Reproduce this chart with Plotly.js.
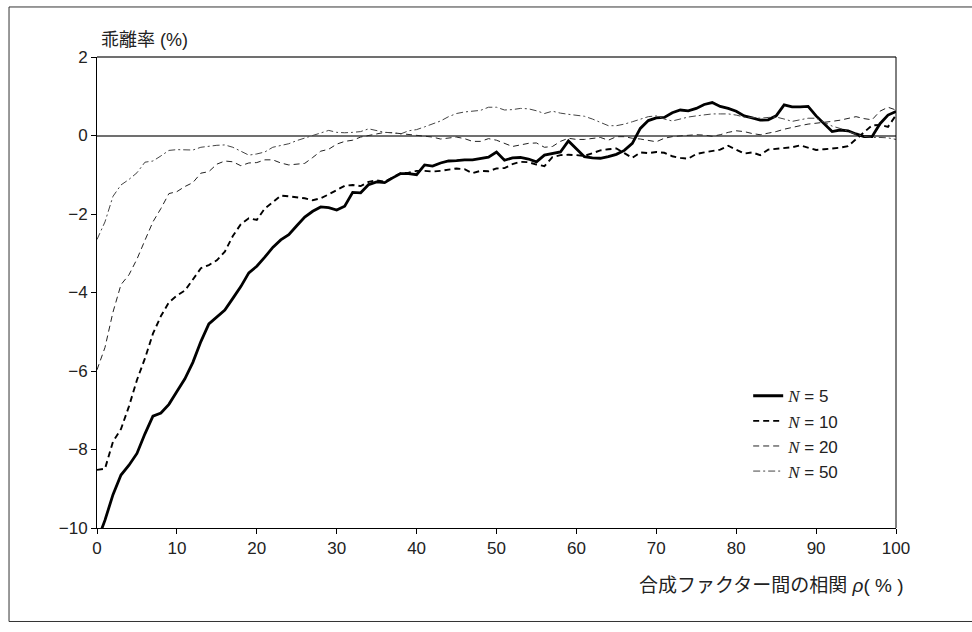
<!DOCTYPE html>
<html>
<head>
<meta charset="utf-8">
<script src="https://cdn.plot.ly/plotly-3.0.1.min.js"></script>
<style>
  html, body { margin: 0; padding: 0; background: #ffffff; }
  #chart { width: 972px; height: 632px; }
</style>
</head>
<body>
<div id="chart"></div>
<script>
// Correlation between composite factors, rho (%)
const rho = Array.from({length: 101}, (_, i) => i);

// Deviation rate (%) for each number of stocks N
const devN5 = [
  -10.35, -9.8, -9.15, -8.65, -8.4, -8.1, -7.6, -7.15, -7.07, -6.85,
  -6.52, -6.2, -5.78, -5.25, -4.8, -4.63, -4.45, -4.15, -3.85, -3.5,
  -3.33, -3.1, -2.85, -2.66, -2.53, -2.3, -2.08, -1.93, -1.82, -1.84,
  -1.9, -1.8, -1.45, -1.46, -1.25, -1.18, -1.2, -1.08, -0.97, -0.97,
  -1.0, -0.75, -0.78, -0.7, -0.65, -0.64, -0.62, -0.62, -0.59, -0.55,
  -0.42, -0.63, -0.57, -0.56, -0.6, -0.67, -0.5, -0.46, -0.42, -0.14,
  -0.33, -0.54, -0.57, -0.58, -0.54, -0.48, -0.38, -0.2, 0.18, 0.38,
  0.45, 0.46, 0.58, 0.65, 0.63, 0.69, 0.79, 0.84, 0.74, 0.69,
  0.62, 0.5, 0.45, 0.39, 0.4, 0.5, 0.78, 0.73, 0.73, 0.74,
  0.5, 0.3, 0.1, 0.14, 0.12, 0.04, -0.03, -0.03, 0.3, 0.52,
  0.61
];
const devN10 = [
  -8.52, -8.49, -7.8, -7.48, -6.9, -6.23, -5.68, -5.05, -4.6, -4.25,
  -4.08, -3.95, -3.67, -3.38, -3.3, -3.18, -2.96, -2.56, -2.26, -2.11,
  -2.15, -1.86, -1.7, -1.53, -1.55, -1.58, -1.6, -1.65, -1.6, -1.5,
  -1.38, -1.28, -1.26, -1.29, -1.18, -1.14, -1.18, -1.08, -0.96, -0.95,
  -0.9, -0.9, -0.92, -0.9, -0.87, -0.84, -0.86, -0.96, -0.9, -0.91,
  -0.84, -0.83, -0.73, -0.67, -0.68, -0.74, -0.78, -0.55, -0.5, -0.49,
  -0.5, -0.52, -0.45, -0.38, -0.35, -0.33, -0.45, -0.57, -0.43, -0.45,
  -0.42, -0.44, -0.53, -0.57, -0.59, -0.47, -0.43, -0.4, -0.36, -0.26,
  -0.36, -0.46, -0.43, -0.5, -0.36, -0.34, -0.32, -0.3, -0.25, -0.3,
  -0.37, -0.35, -0.33, -0.31, -0.27, -0.1, 0.08, 0.26, 0.27, 0.22,
  0.52
];
const devN20 = [
  -5.97, -5.4, -4.5, -3.8, -3.55, -3.15, -2.67, -2.2, -1.86, -1.48,
  -1.43, -1.3, -1.2, -0.96, -0.92, -0.73, -0.65, -0.67, -0.77, -0.7,
  -0.69, -0.62, -0.62, -0.7, -0.75, -0.73, -0.71, -0.56, -0.4, -0.35,
  -0.22, -0.15, -0.12, -0.04, 0.0, 0.05, 0.08, 0.07, 0.05, 0.03,
  0.01, -0.01, -0.04, -0.09, -0.06, -0.04, -0.08, -0.15, -0.15, -0.08,
  -0.12, -0.2, -0.28, -0.24, -0.2, -0.19, -0.3, -0.28, -0.15, -0.07,
  -0.1, -0.1, -0.07, -0.05, -0.12, -0.03, -0.03, -0.07, -0.09, -0.12,
  -0.16, -0.07, -0.03, -0.01, 0.0, 0.02, 0.01, -0.02, 0.02, 0.08,
  0.12, 0.1, 0.05, 0.02, 0.06, 0.1, 0.16, 0.21, 0.25, 0.29,
  0.31, 0.34, 0.36, 0.39, 0.43, 0.48, 0.43, 0.4, 0.62, 0.72,
  0.65
];
const devN50 = [
  -2.65, -2.2, -1.55, -1.26, -1.12, -0.95, -0.68, -0.65, -0.52, -0.38,
  -0.36, -0.37, -0.37, -0.3, -0.27, -0.25, -0.24, -0.3, -0.4, -0.5,
  -0.47, -0.42, -0.3, -0.25, -0.21, -0.13, -0.06, 0.0, 0.07, 0.13,
  0.08, 0.07, 0.08, 0.1, 0.17, 0.12, 0.08, 0.07, 0.04, 0.12,
  0.15, 0.22, 0.3, 0.37, 0.48, 0.56, 0.6, 0.62, 0.64, 0.72,
  0.72, 0.65, 0.66, 0.69, 0.68, 0.63, 0.56, 0.62, 0.57, 0.54,
  0.52, 0.49, 0.42, 0.34, 0.25, 0.25, 0.29, 0.35, 0.42, 0.48,
  0.5, 0.42, 0.37, 0.42, 0.47, 0.5, 0.53, 0.55, 0.55, 0.55,
  0.52, 0.47, 0.46, 0.44, 0.46, 0.47, 0.42, 0.36, 0.4, 0.44,
  0.44, 0.34, 0.24, 0.18, 0.1, 0.03, -0.02, -0.05, -0.05, -0.06,
  -0.1
];

const seriesNames = ["5", "10", "20", "50"];
const xTickVals = [0, 10, 20, 30, 40, 50, 60, 70, 80, 90, 100];
const yTickVals = [-10, -8, -6, -4, -2, 0, 2];

const latin = "Liberation Sans, Arial, sans-serif";
const cjk = "Liberation Sans, Noto Sans CJK JP, sans-serif";

function legendLabel(n) {
  return '<span style="font-family:Liberation Serif"><i>N</i></span> = ' + n;
}

const traces = [
  { y: devN5,  line: { color: "#000000", width: 2.8, dash: "solid" } },
  { y: devN10, line: { color: "#000000", width: 1.9, dash: "6px,4px" } },
  { y: devN20, line: { color: "#222222", width: 1.0, dash: "6px,4px" } },
  { y: devN50, line: { color: "#444444", width: 1.0, dash: "7px,3px,2px,3px" } }
].map((t, i) => ({
  type: "scatter",
  mode: "lines",
  x: rho,
  y: t.y,
  name: legendLabel(seriesNames[i]),
  line: t.line,
  hoverinfo: "skip"
}));

const layout = {
  width: 972,
  height: 632,
  margin: { l: 97, r: 76, t: 57, b: 104, pad: 0 },
  paper_bgcolor: "#ffffff",
  plot_bgcolor: "#ffffff",
  font: { family: latin, size: 17, color: "#222222" },
  showlegend: true,
  legend: {
    x: 0.815, xanchor: "left",
    y: 0.318, yanchor: "top",
    bgcolor: "rgba(0,0,0,0)",
    itemwidth: 30,
    tracegroupgap: 0,
    font: { family: latin, size: 17, color: "#222222" }
  },
  xaxis: {
    range: [0, 100],
    tickvals: xTickVals,
    ticks: "outside",
    ticklen: 5,
    tickcolor: "#000000",
    showline: true,
    linecolor: "#000000",
    linewidth: 1,
    showgrid: false,
    zeroline: false,
    tickfont: { family: latin, size: 17, color: "#222222" }
  },
  yaxis: {
    range: [-10, 2],
    tickvals: yTickVals,
    ticks: "outside",
    ticklen: 5,
    tickcolor: "#000000",
    showline: true,
    linecolor: "#000000",
    linewidth: 1,
    showgrid: false,
    zeroline: true,
    zerolinecolor: "#707070",
    zerolinewidth: 2,
    tickfont: { family: latin, size: 17, color: "#222222" }
  },
  shapes: [
    // upper edge of the plot frame
    { type: "line", xref: "paper", yref: "paper", x0: 0, x1: 1, y0: 1, y1: 1,
      line: { color: "#707070", width: 2 } },
    // right edge of the plot frame
    { type: "line", xref: "paper", yref: "paper", x0: 1, x1: 1, y0: 0, y1: 1,
      line: { color: "#000000", width: 1 } },
    // outer figure frame
    { type: "rect", xref: "paper", yref: "paper",
      x0: -0.1101, x1: 1.11, y0: -0.1985, y1: 1.1062,
      line: { color: "#333333", width: 1 }, layer: "below" }
  ],
  annotations: [
    { text: "乖離率 (%)", xref: "paper", yref: "paper",
      x: 0.003, y: 1.01, xanchor: "left", yanchor: "bottom", showarrow: false,
      font: { family: cjk, size: 18, color: "#222222" } },
    { text: "合成ファクター間の相関 <i>ρ</i>( % )", xref: "paper", yref: "paper",
      x: 1.012, y: -0.095, xanchor: "right", yanchor: "top", showarrow: false,
      font: { family: cjk, size: 19, color: "#222222" } }
  ]
};

Plotly.newPlot("chart", traces, layout, { staticPlot: true, displayModeBar: false });
</script>
</body>
</html>
